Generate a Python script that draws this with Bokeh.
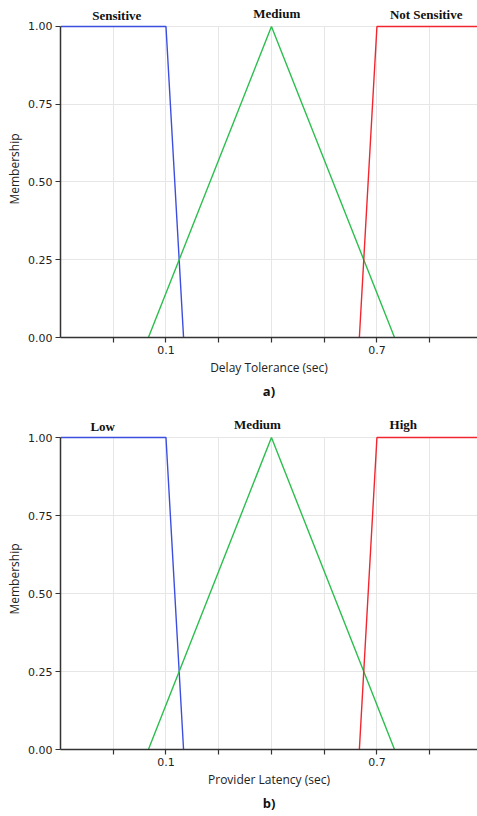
from bokeh.plotting import figure
from bokeh.layouts import column
from bokeh.models import FixedTicker, PrintfTickFormatter, Range1d, Title
from bokeh.core.properties import value
from bokeh.embed import file_html
from bokeh.resources import INLINE

# ---- data ----
x_ticks = [-0.05, 0.1, 0.25, 0.4, 0.55, 0.7, 0.85]
x_tick_labels = ["", "0.1", "", "", "", "0.7", ""]
y_ticks = [0.0, 0.25, 0.5, 0.75, 1.0]

low_x = [-0.2, 0.1, 0.15]
low_y = [1.0, 1.0, 0.0]
mid_x = [0.05, 0.4, 0.75]
mid_y = [0.0, 1.0, 0.0]
high_x = [0.65, 0.7, 1.0]
high_y = [0.0, 1.0, 1.0]

top_names = ["Sensitive", "Medium", "Not Sensitive"]
top_name_x = [-0.04, 0.415, 0.84]
top_name_y = [1.036, 1.042, 1.039]
bot_names = ["Low", "Medium", "High"]
bot_name_x = [-0.08, 0.36, 0.775]
bot_name_y = [1.035, 1.042, 1.042]

BLUE = "#3c4ee0"
GREEN = "#2cbf4e"
RED = "#f2262f"


def make_fig(height, y_end, border_bottom, xlabel, tag, names, name_x, name_y):
    p = figure(width=477, height=height, output_backend="svg", toolbar_location=None,
               x_range=Range1d(-0.2, 0.986), y_range=Range1d(0, y_end),
               min_border_left=60, min_border_right=0, min_border_top=0,
               min_border_bottom=border_bottom)
    p.outline_line_color = None
    p.background_fill_color = "white"
    p.border_fill_color = "white"

    p.line(low_x, low_y, line_color=BLUE, line_width=1.4)
    p.line(mid_x, mid_y, line_color=GREEN, line_width=1.4)
    p.line(high_x, high_y, line_color=RED, line_width=1.4)

    p.text(x=name_x, y=name_y, text=names, text_font=value("Liberation Serif"),
           text_font_style="bold", text_font_size="13px", text_align="center",
           text_baseline="middle", text_color="#111111")

    p.xaxis.ticker = FixedTicker(ticks=x_ticks)
    p.xaxis.major_label_overrides = {t: l for t, l in zip(x_ticks, x_tick_labels)}
    p.xaxis.minor_tick_line_color = None
    p.yaxis.ticker = FixedTicker(ticks=y_ticks)
    p.yaxis.formatter = PrintfTickFormatter(format="%.2f")
    p.yaxis.minor_tick_line_color = None
    p.yaxis.bounds = (0, 1)

    for ax in (p.xaxis[0], p.yaxis[0]):
        ax.axis_line_color = "#333333"
        ax.axis_line_width = 1.5
        ax.major_tick_line_color = "#333333"
        ax.major_tick_line_width = 1.2
        ax.major_tick_out = 5
        ax.major_tick_in = 0
        ax.major_label_text_font = "DejaVu Sans"
        ax.major_label_text_font_size = "11px"
        ax.major_label_text_color = "#222222"
        ax.major_label_standoff = 3
        ax.axis_label_text_font = "Open Sans"
        ax.axis_label_text_font_size = "12px"
        ax.axis_label_text_font_style = "normal"
        ax.axis_label_text_color = "#222222"
        ax.axis_label_standoff = 2
    p.xaxis.axis_label = xlabel
    p.yaxis.axis_label = "Membership"

    p.xgrid.ticker = FixedTicker(ticks=x_ticks)
    p.ygrid.ticker = FixedTicker(ticks=y_ticks)
    for g in (p.xgrid[0], p.ygrid[0]):
        g.grid_line_color = "#e6e6e6"
        g.grid_line_width = 1
    p.xgrid.cross_bounds = (0, 1)

    t = Title(text=tag, align="center", text_font="Open Sans",
              text_font_size="13px", text_font_style="bold", text_color="#111111",
              standoff=3)
    p.add_layout(t, "below")
    return p


p1 = make_fig(408, 1.0836, 71, "Delay Tolerance (sec)", "a)", top_names, top_name_x, top_name_y)
p2 = make_fig(408, 1.093, 67, "Provider Latency (sec)", "b)", bot_names, bot_name_x, bot_name_y)

layout = column(p1, p2, spacing=0)
open("out.html", "w").write(file_html(layout, INLINE))
